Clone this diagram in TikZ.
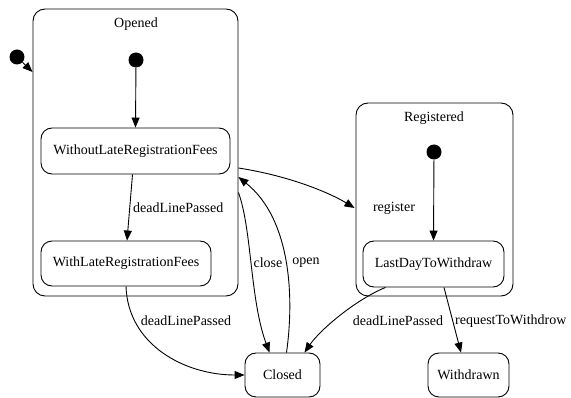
\documentclass[tikz,border=0pt]{standalone}
\usepackage{fontspec}
\setmainfont{Liberation Serif}
\usetikzlibrary{calc,arrows.meta}
\begin{document}
\begin{tikzpicture}[x=1pt,y=-1pt,
  every node/.style={font=\fontsize{14}{16}\selectfont},
  cluster/.style={draw,rounded corners=12pt,line width=0.9pt,inner sep=0pt},
  state/.style={draw,rounded corners=11pt,line width=0.9pt,inner sep=0pt},
  initdot/.style={circle,fill=black,inner sep=0pt,minimum size=15pt},
  tr/.style={line width=0.9pt,-{Triangle[length=10pt,width=8pt]}},
  lbl/.style={inner sep=1pt}]
\useasboundingbox (0,0) rectangle (571,398);
% clusters
\node[cluster,minimum width=205pt,minimum height=287pt] (opened) at (135.5,152.5) {};
\node (openedlbl) at (136,24) {Opened};
\node[cluster,minimum width=157pt,minimum height=193pt] (registered) at (434.5,199.5) {};
\node (registeredlbl) at (434,118) {Registered};
% states
\node[initdot] (outinit) at (17,57) {};
\node[initdot] (opinit) at (136,60) {};
\node[initdot] (reginit) at (434,152) {};
\node[state,minimum width=189pt,minimum height=46pt] (wo) at (135.5,151) {WithoutLateRegistrationFees};
\node[state,minimum width=170pt,minimum height=45pt] (wl) at (126,263.5) {WithLateRegistrationFees};
\node[state,minimum width=141pt,minimum height=46pt] (ld) at (433.5,264) {LastDayToWithdraw};
\node[state,minimum width=75pt,minimum height=44pt] (closed) at (282.5,375) {Closed};
\node[state,minimum width=81pt,minimum height=44pt] (withdrawn) at (468.5,375) {Withdrawn};
% transitions
\draw[tr] (outinit) -- ($(opened.west)+(0,-80.5)$);
\draw[tr] (opinit) -- (wo.north);
\draw[tr] (reginit) -- (ld.north);
\draw[tr] ($(wo.south)+(-3,0)$) -- ($(wl.north)+(1,0)$);
\node[lbl,anchor=west] (l1) at (132,208) {deadLinePassed};
\draw[tr] ($(opened.east)+(0,15.5)$) .. controls (290,176) and (330,193) .. ($(registered.west)+(-1,8.5)$);
\node[lbl] (l2) at (394,208) {register};
\draw[tr] ($(opened.east)+(0,40)$) .. controls (252,230) and (250,300) .. ($(closed.north)+(-13,0)$);
\node[lbl] (l3) at (268,263) {close};
\draw[tr] ($(closed.north)+(4,0)$) .. controls (294,300) and (292,220) .. ($(opened.east)+(0,24.5)$);
\node[lbl] (l4) at (306,263) {open};
\draw[tr] (wl.south) .. controls (128,345) and (185,375) .. (closed.west);
\node[lbl] (l5) at (186,321) {deadLinePassed};
\draw[tr] ($(ld.south)+(-48,0)$) .. controls (355,300) and (320,330) .. ($(closed.north)+(22,0)$);
\node[lbl] (l6) at (398,321) {deadLinePassed};
\draw[tr] ($(ld.south)+(10.5,0)$) -- ($(withdrawn.north)+(-7.5,0)$);
\node[lbl,anchor=west] (l7) at (454,321) {requestToWithdrow};
\end{tikzpicture}
\end{document}
